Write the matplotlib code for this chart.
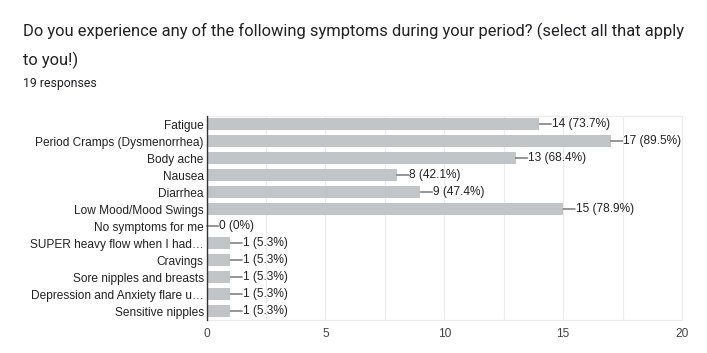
import matplotlib
matplotlib.use("Agg")
import matplotlib.pyplot as plt

categories = ["Fatigue", "Period Cramps (Dysmenorrhea)", "Body ache", "Nausea", "Diarrhea",
              "Low Mood/Mood Swings", "No symptoms for me", "SUPER heavy flow when I had\u2026",
              "Cravings", "Sore nipples and breasts", "Depression and Anxiety flare u\u2026",
              "Sensitive nipples"]
counts = [14, 17, 13, 8, 9, 15, 0, 1, 1, 1, 1, 1]
percent_labels = ["73.7%", "89.5%", "68.4%", "42.1%", "47.4%", "78.9%", "0%",
                  "5.3%", "5.3%", "5.3%", "5.3%", "5.3%"]
x_ticks = [0, 5, 10, 15, 20]

fig = plt.figure(figsize=(7.07, 3.53), dpi=100)
ax = fig.add_axes([206.5/707, 1-319.5/353, (682-206.5)/707, (319.5-115.5)/353])

ypos = list(range(len(categories)))
ax.barh(ypos, counts, height=0.66, color="#c2c5c7", zorder=2)
ax.set_ylim(len(categories)-0.5, -0.5)
ax.set_xlim(0, 20)
ax.set_yticks(ypos)
ax.set_yticklabels(categories, fontsize=8.55, color="#222222", family="Liberation Sans")
ax.set_xticks(x_ticks)
ax.set_xticklabels([str(t) for t in x_ticks], fontsize=8.6, color="#444444", family="Liberation Sans")
ax.set_xticks([2.5, 7.5, 12.5, 17.5], minor=True)
ax.tick_params(axis="both", which="both", length=0)
ax.tick_params(axis="y", pad=2)
ax.tick_params(axis="x", pad=6)
ax.grid(axis="x", which="both", color="#ececec", lw=0.8, zorder=0)
for s in ["top", "right", "bottom"]:
    ax.spines[s].set_color("#ececec")
    ax.spines[s].set_linewidth(0.8)
ax.spines["left"].set_color("#333333")
ax.spines["left"].set_linewidth(1.0)
ax.spines["left"].set_zorder(3)

for i, (v, p) in enumerate(zip(counts, percent_labels)):
    ax.annotate("", xy=(v, i), xytext=(12, 0), textcoords="offset pixels",
                arrowprops=dict(arrowstyle="-", color="#444444", lw=0.8, shrinkA=0, shrinkB=0))
    ax.annotate(f"{v} ({p})", xy=(v, i), xytext=(12.5, 0), textcoords="offset pixels",
                ha="left", va="center", fontsize=8.6, color="#222222", family="Liberation Sans")

fig.text(23/707, 1-31/353, "Do you experience any of the following symptoms during your period? (select all that apply",
         fontsize=11.85, color="#202124", family="Roboto", va="center", ha="left")
fig.text(23/707, 1-60/353, "to you!)", fontsize=11.85, color="#202124", family="Roboto", va="center", ha="left")
fig.text(23/707, 1-84/353, "19 responses", fontsize=8.8, color="#202124", family="Roboto", va="center", ha="left")

fig.savefig("out.png", dpi=100)
